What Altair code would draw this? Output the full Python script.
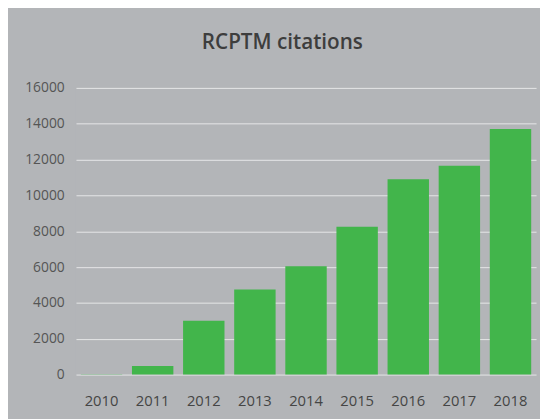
import altair as alt
import pandas as pd

years = ["2010", "2011", "2012", "2013", "2014", "2015", "2016", "2017", "2018"]
citations = [20, 480, 3000, 4750, 6050, 8250, 10900, 11650, 13700]
y_ticks = [0, 2000, 4000, 6000, 8000, 10000, 12000, 14000, 16000]

df = pd.DataFrame({"year": years, "citations": citations})

BG = "#b3b5b8"

chart = (
    alt.Chart(df)
    .mark_bar(color="#42b54b")
    .encode(
        x=alt.X(
            "year:N",
            sort=years,
            title=None,
            scale=alt.Scale(paddingInner=0.19, paddingOuter=0.095),
            axis=alt.Axis(
                labelAngle=0,
                domain=False,
                ticks=False,
                labelPadding=19,
                labelFontSize=15,
                labelColor="#454545",
                labelFont="Open Sans",
                grid=False,
            ),
        ),
        y=alt.Y(
            "citations:Q",
            title=None,
            scale=alt.Scale(domain=[0, 16000], nice=False),
            axis=alt.Axis(
                values=y_ticks,
                format="d",
                domain=False,
                ticks=False,
                labelPadding=12,
                labelFontSize=14,
                labelColor="#555555",
                labelFont="Open Sans",
                gridColor="#e6e7e8",
                gridWidth=1,
            ),
        ),
    )
    .properties(
        width=467,
        height=291,
        title=alt.TitleParams(
            "RCPTM citations",
            font="Open Sans",
            fontSize=21,
            fontWeight=600,
            color="#3d3d3d",
            anchor="middle",
            offset=28,
            dx=-24,
        ),
        padding={"left": 69, "top": 78, "right": 4, "bottom": 42},
        autosize=alt.AutoSizeParams(type="none"),
        background=BG,
    )
    .configure_view(stroke=None, fill=BG)
)

chart.save("out.html", embed_options={"renderer": "svg", "actions": False})
